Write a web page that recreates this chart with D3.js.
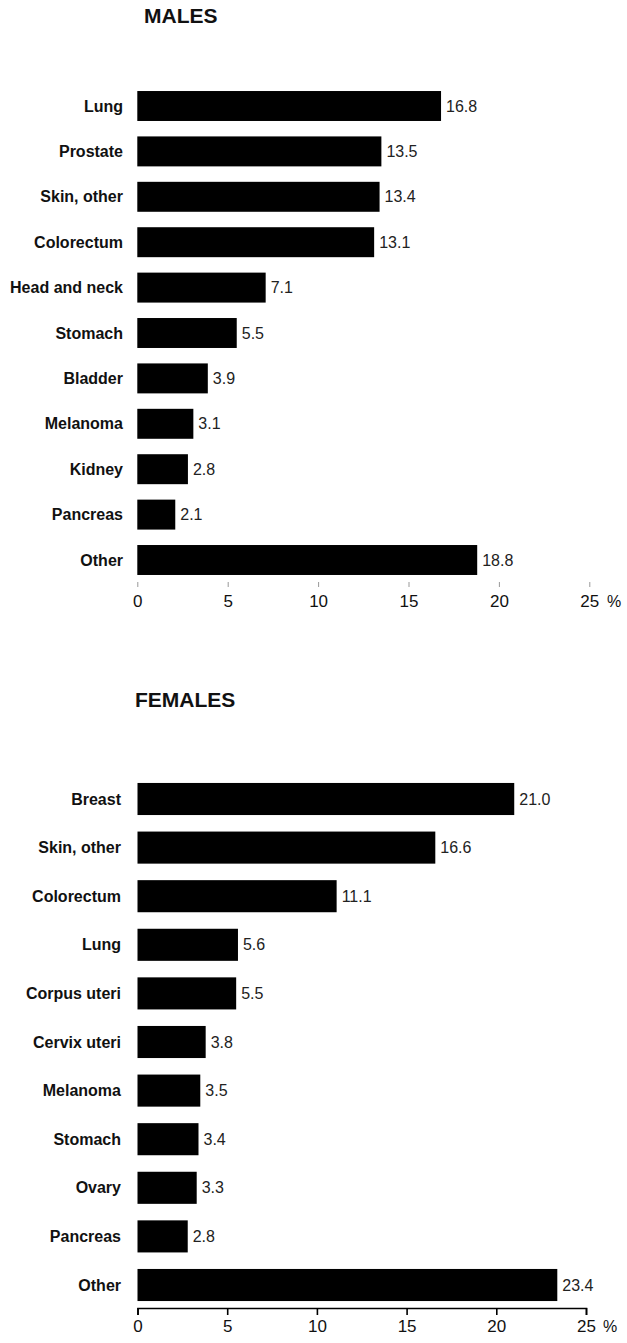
<!DOCTYPE html>
<html>
<head>
<meta charset="utf-8">
<script src="https://cdn.jsdelivr.net/npm/d3@7"></script>
<style>
  html, body { margin: 0; padding: 0; background: #fff; }
  svg { display: block; }
  text { font-family: "Liberation Sans", Arial, Helvetica, sans-serif; }
</style>
</head>
<body>
<svg id="chart" width="627" height="1343"></svg>
<script>
// ---- Data ----
const maleCategories = ["Lung", "Prostate", "Skin, other", "Colorectum", "Head and neck", "Stomach", "Bladder", "Melanoma", "Kidney", "Pancreas", "Other"];
const maleValues = [16.8, 13.5, 13.4, 13.1, 7.1, 5.5, 3.9, 3.1, 2.8, 2.1, 18.8];

const femaleCategories = ["Breast", "Skin, other", "Colorectum", "Lung", "Corpus uteri", "Cervix uteri", "Melanoma", "Stomach", "Ovary", "Pancreas", "Other"];
const femaleValues = [21.0, 16.6, 11.1, 5.6, 5.5, 3.8, 3.5, 3.4, 3.3, 2.8, 23.4];

const tickValues = [0, 5, 10, 15, 20, 25];
const axisUnit = "%";

const svg = d3.select("#chart");

function panel(cfg) {
  const g = svg.append("g");
  const x = d3.scaleLinear().domain([0, 25]).range([cfg.x0, cfg.x1]);
  const y = d3.scaleBand().domain(cfg.categories).range([cfg.y0, cfg.y1])
    .paddingInner(0.34).paddingOuter(0.17);

  g.append("text")
    .attr("x", cfg.titleX).attr("y", cfg.titleY)
    .attr("font-size", 21).attr("font-weight", "bold").attr("fill", "#111")
    .text(cfg.title);

  const data = cfg.categories.map((c, i) => ({ c, v: cfg.values[i] }));

  g.selectAll("rect.bar").data(data).enter().append("rect")
    .attr("class", "bar")
    .attr("x", x(0))
    .attr("y", d => y(d.c))
    .attr("width", d => x(d.v) - x(0))
    .attr("height", y.bandwidth())
    .attr("fill", "#000");

  g.selectAll("text.cat").data(data).enter().append("text")
    .attr("class", "cat")
    .attr("x", cfg.labelX)
    .attr("y", d => y(d.c) + y.bandwidth() / 2)
    .attr("dy", "0.35em")
    .attr("text-anchor", "end")
    .attr("font-size", 16).attr("font-weight", "bold").attr("fill", "#111")
    .text(d => d.c);

  g.selectAll("text.val").data(data).enter().append("text")
    .attr("class", "val")
    .attr("x", d => x(d.v) + 5)
    .attr("y", d => y(d.c) + y.bandwidth() / 2)
    .attr("dy", "0.35em")
    .attr("font-size", 16).attr("fill", "#222")
    .text(d => d.v.toFixed(1));

  const axis = d3.axisBottom(x).tickValues(tickValues).tickFormat(d3.format("d"))
    .tickSizeOuter(0).tickSize(cfg.tickSize).tickPadding(cfg.tickPadding);
  const ag = g.append("g").attr("transform", `translate(0,${cfg.axisY})`).call(axis);
  ag.selectAll("text").attr("font-size", 17).attr("fill", "#111")
    .attr("font-family", "Liberation Sans, Arial, sans-serif");
  if (cfg.showLine) {
    ag.select(".domain").attr("stroke", "#000").attr("stroke-width", 1.6);
    ag.selectAll(".tick line").attr("stroke", "#000").attr("stroke-width", 1.6);
  } else {
    ag.select(".domain").remove();
    ag.selectAll(".tick line").attr("stroke", "#999").attr("stroke-width", 1);
  }

  g.append("text")
    .attr("x", cfg.unitX).attr("y", cfg.unitY)
    .attr("font-size", 16).attr("fill", "#111")
    .text(axisUnit);
}

panel({
  title: "MALES", titleX: 144, titleY: 23,
  categories: maleCategories, values: maleValues,
  x0: 137.3, x1: 589.3, y0: 83.3, y1: 582.7,
  labelX: 123,
  axisY: 582, tickSize: 5, tickPadding: 8, showLine: false,
  unitX: 607, unitY: 607
});

panel({
  title: "FEMALES", titleX: 135, titleY: 707,
  categories: femaleCategories, values: femaleValues,
  x0: 137.5, x1: 586, y0: 774.7, y1: 1309.3,
  labelX: 121,
  axisY: 1308, tickSize: 7, tickPadding: 5, showLine: true,
  unitX: 603, unitY: 1332
});
</script>
</body>
</html>
